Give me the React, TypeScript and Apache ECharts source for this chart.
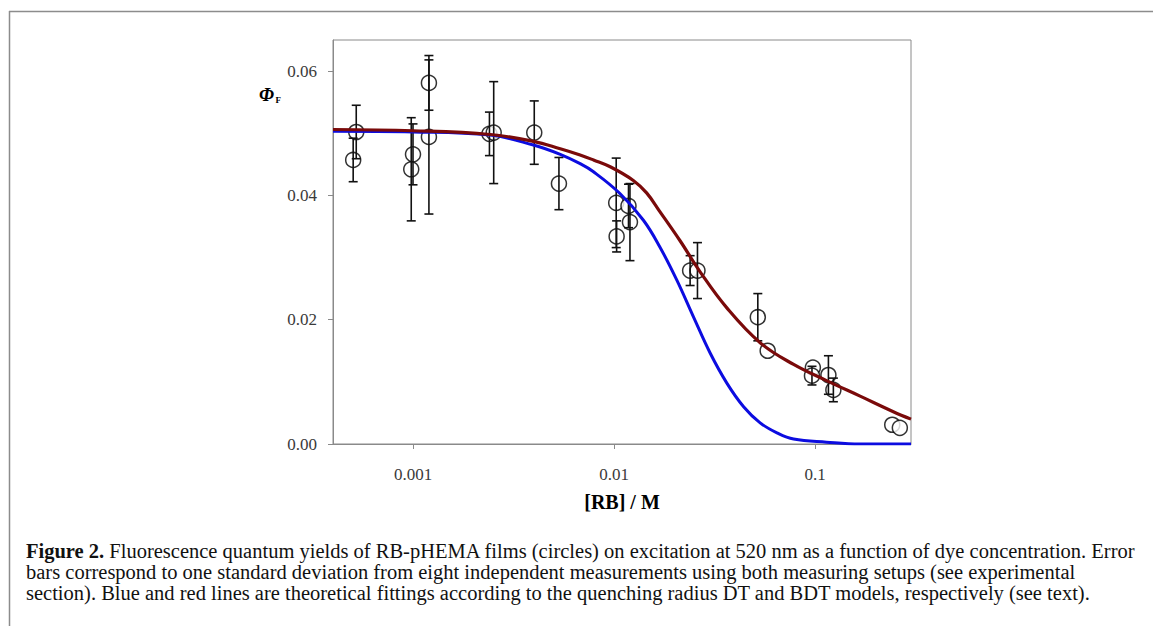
import React, { useEffect, useRef } from "react";
import * as echarts from "echarts";

// Measured data points: concentration [RB] / M, quantum yield, standard deviation (null = no visible bar)
const pointConc = [0.000504, 0.000522, 0.001, 0.00098, 0.0012, 0.0012, 0.0024, 0.00252, 0.00401, 0.00532, 0.01025, 0.0118, 0.012, 0.0103, 0.0239, 0.026, 0.0519, 0.0581, 0.0975, 0.0965, 0.1165, 0.1233, 0.242, 0.264];
const pointPhi = [0.0457, 0.0502, 0.0466, 0.0442, 0.0581, 0.0494, 0.0499, 0.0501, 0.0501, 0.0419, 0.0388, 0.0383, 0.0357, 0.0334, 0.0279, 0.0279, 0.0204, 0.015, 0.0123, 0.011, 0.0111, 0.0087, 0.0031, 0.0026];
const pointErr = [0.0035, 0.0043, 0.0049, 0.0083, 0.0044, 0.0124, 0.0035, 0.0082, 0.0051, 0.0042, 0.0072, 0.0035, 0.0062, 0.0025, 0.0024, 0.0045, 0.0038, null, null, 0.0015, 0.0031, 0.0019, null, null];

// DT model fit (blue)
const dtConc = [0.0004, 0.001, 0.00242, 0.00397, 0.0054, 0.00678, 0.0079, 0.0107, 0.014, 0.0169, 0.0205, 0.0248, 0.0301, 0.0364, 0.0441, 0.0533, 0.0646, 0.0782, 0.114, 0.1675, 0.3];
const dtPhi = [0.0503, 0.0502, 0.0497, 0.0481, 0.0466, 0.0451, 0.0438, 0.0403, 0.036, 0.0317, 0.0264, 0.0205, 0.0146, 0.0098, 0.006, 0.0034, 0.0018, 0.0008, 0.0003, 0.0, 0.0];

// BDT model fit (red)
const bdtConc = [0.0004, 0.001, 0.00242, 0.00397, 0.0054, 0.00678, 0.0079, 0.00957, 0.01247, 0.01452, 0.0169, 0.0213, 0.0268, 0.0364, 0.0533, 0.0782, 0.114, 0.1675, 0.245, 0.3];
const bdtPhi = [0.0506, 0.0504, 0.0498, 0.0487, 0.0475, 0.0465, 0.0457, 0.0446, 0.0424, 0.0404, 0.0374, 0.0327, 0.0277, 0.0219, 0.0163, 0.0128, 0.0102, 0.0077, 0.0052, 0.004];

const xTicks = [0.001, 0.01, 0.1];
const yTicks = [0, 0.02, 0.04, 0.06];

const captionLines = [
  "Fluorescence quantum yields of RB-pHEMA films (circles) on excitation at 520 nm as a function of dye concentration. Error",
  "bars correspond to one standard deviation from eight independent measurements using both measuring setups (see experimental",
  "section). Blue and red lines are theoretical fittings according to the quenching radius DT and BDT models, respectively (see text).",
];

const SERIF = "'Liberation Serif', 'Times New Roman', serif";

export default function App() {
  const ref = useRef<HTMLDivElement>(null);
  useEffect(() => {
    document.body.style.margin = "0";
    if (!ref.current) return;
    const chart = echarts.init(ref.current, null, { renderer: "svg" });
    const scatterData = pointConc.map((c, i) => [c, pointPhi[i]]);
    const errData = pointConc
      .map((c, i) => [c, pointPhi[i], pointErr[i]])
      .filter((d) => d[2] != null);
    const option: any = {
      animation: false,
      backgroundColor: "#ffffff",
      grid: {
        left: 333,
        top: 40,
        width: 578,
        height: 404,
        show: true,
        borderColor: "#8a8a8a",
        borderWidth: 1,
      },
      xAxis: {
        type: "log",
        logBase: 10,
        min: 0.0004,
        max: 0.3,
        axisLine: { show: true, lineStyle: { color: "#8a8a8a", width: 1 } },
        axisTick: { show: true, length: 5, inside: false, customValues: xTicks, lineStyle: { color: "#8a8a8a" } },
        axisLabel: {
          customValues: xTicks,
          margin: 22,
          fontFamily: SERIF,
          fontSize: 17,
          color: "#3a3a3a",
          formatter: (v: number) => String(v),
        },
        splitLine: { show: false },
      },
      yAxis: {
        type: "value",
        min: 0,
        max: 0.065,
        axisLine: { show: true, lineStyle: { color: "#8a8a8a", width: 1 } },
        axisTick: { show: true, length: 5, inside: false, customValues: yTicks, lineStyle: { color: "#8a8a8a" } },
        axisLabel: {
          customValues: yTicks,
          margin: 16,
          fontFamily: SERIF,
          fontSize: 17,
          color: "#3a3a3a",
          formatter: (v: number) => v.toFixed(2),
        },
        splitLine: { show: false },
      },
      series: [
        {
          type: "scatter",
          data: scatterData,
          symbol: "circle",
          symbolSize: 15,
          itemStyle: { color: "#ffffff", borderColor: "#000000", borderWidth: 1.5 },
          z: 2,
        },
        {
          type: "custom",
          data: errData,
          encode: { x: 0, y: 1 },
          z: 3,
          renderItem: (params: any, api: any) => {
            const x = api.value(0);
            const y = api.value(1);
            const e = api.value(2);
            const top = api.coord([x, y + e]);
            const bot = api.coord([x, y - e]);
            const hw = 4.5;
            const st = { stroke: "#111111", lineWidth: 1.6 };
            return {
              type: "group",
              children: [
                { type: "line", shape: { x1: top[0], y1: top[1], x2: bot[0], y2: bot[1] }, style: st },
                { type: "line", shape: { x1: top[0] - hw, y1: top[1], x2: top[0] + hw, y2: top[1] }, style: st },
                { type: "line", shape: { x1: bot[0] - hw, y1: bot[1], x2: bot[0] + hw, y2: bot[1] }, style: st },
              ],
            };
          },
        },
        {
          type: "line",
          data: dtConc.map((c, i) => [c, dtPhi[i]]),
          smooth: 0.4,
          symbol: "none",
          lineStyle: { color: "#0c0ce0", width: 3 },
          z: 4,
        },
        {
          type: "line",
          data: bdtConc.map((c, i) => [c, bdtPhi[i]]),
          smooth: 0.4,
          symbol: "none",
          lineStyle: { color: "#7a0a0a", width: 3.2 },
          z: 5,
        },
      ],
      graphic: [
        { type: "line", shape: { x1: 9, y1: 11.5, x2: 1153, y2: 11.5 }, style: { stroke: "#8c8c8c", lineWidth: 1.5 } },
        { type: "line", shape: { x1: 9.5, y1: 11, x2: 9.5, y2: 626 }, style: { stroke: "#8c8c8c", lineWidth: 1.5 } },
        {
          type: "text",
          x: 259,
          y: 85,
          style: { text: "Φ", fontFamily: SERIF, fontSize: 19, fontWeight: "bold", fontStyle: "italic", fill: "#000" },
        },
        {
          type: "text",
          x: 275.5,
          y: 95,
          style: { text: "F", fontFamily: SERIF, fontSize: 9, fontWeight: "bold", fill: "#000" },
        },
        {
          type: "text",
          x: 622,
          y: 502,
          style: {
            text: "[RB] / M",
            fontFamily: SERIF,
            fontSize: 20,
            fontWeight: "bold",
            fill: "#000",
            align: "center",
            verticalAlign: "middle",
          },
        },
        ...captionLines.map((t, i) => ({
          type: "text",
          x: 26,
          y: 551 + i * 21,
          style: {
            text: i === 0 ? "{b|Figure 2.} " + t : t,
            fontFamily: SERIF,
            fontSize: 20.5,
            fill: "#111",
            verticalAlign: "middle",
            rich: { b: { fontFamily: SERIF, fontSize: 20.5, fontWeight: "bold", fill: "#111" } },
          },
        })),
      ],
    };
    chart.setOption(option);
    return () => chart.dispose();
  }, []);
  return <div ref={ref} style={{ width: 1153, height: 626 }} />;
}
